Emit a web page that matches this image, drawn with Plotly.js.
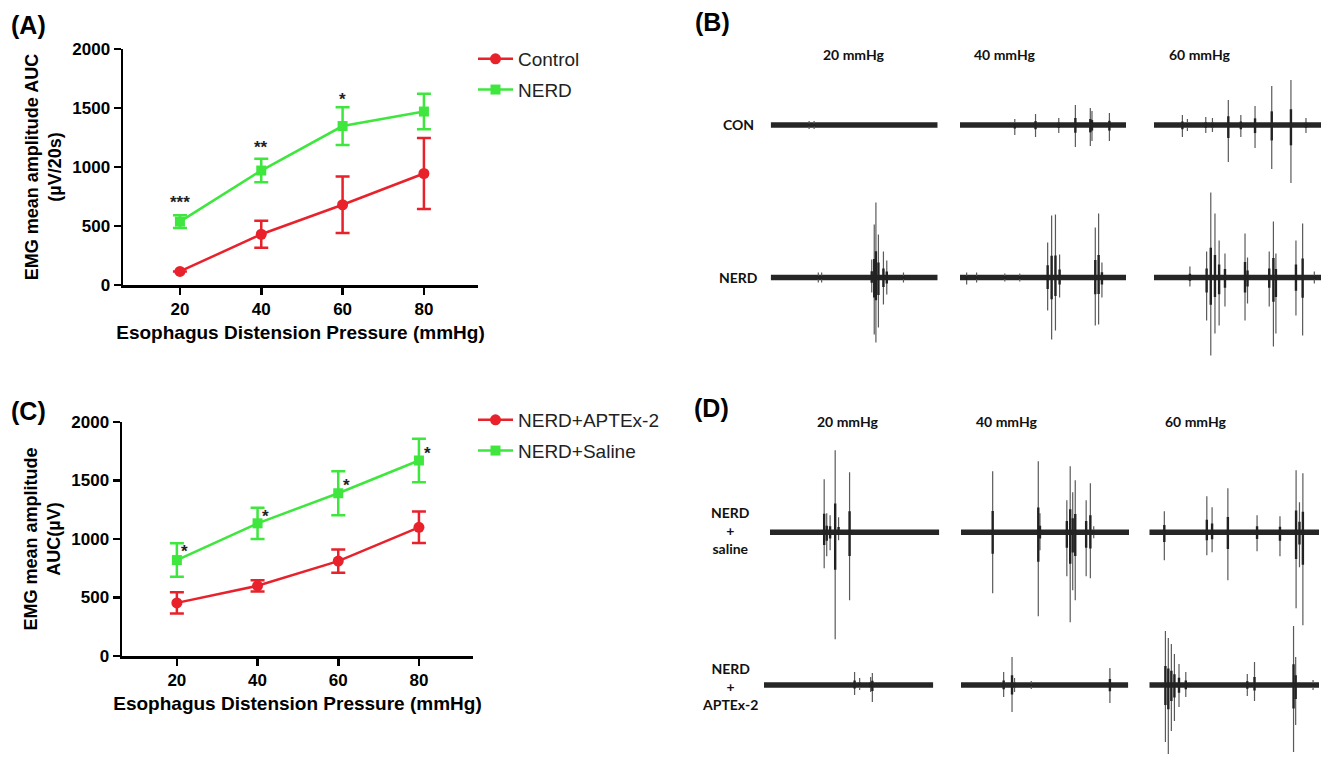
<!DOCTYPE html>
<html><head><meta charset="utf-8">
<script src="https://cdn.plot.ly/plotly-3.0.1.min.js"></script>
<style>html,body{margin:0;padding:0;background:#fff}#chart{width:1323px;height:759px}</style>
</head><body><div id="chart"></div>
<script>
// ---------- Panel A data ----------
const pressure = [20, 40, 60, 80];
const controlMean = [115, 430, 680, 945];
const controlErr = [0, 115, 240, 300];
const nerdMean = [537, 970, 1347, 1470];
const nerdErr = [55, 100, 160, 150];
const starsAText = ['***', '**', '*'];
const starsAX = [20, 40, 60];
const starsAY = [720, 1186, 1593];
// ---------- Panel C data ----------
const aptexMean = [454, 600, 811, 1100];
const aptexErr = [90, 48, 100, 135];
const salineMean = [820, 1134, 1391, 1671];
const salineErr = [143, 133, 188, 185];
const starsCText = ['*', '*', '*', '*'];
const starsCX = [22, 42, 62, 82];
const starsCY = [929, 1226, 1491, 1769];
const xTicks = [20, 40, 60, 80];
const yTicks = [0, 500, 1000, 1500, 2000];
// ---------- EMG traces (time s, amplitude up / down, a.u.) ----------
const pressureLabels = ['20 mmHg', '40 mmHg', '60 mmHg'];
const rowLabelsB = ['CON', 'NERD'];
const rowLabelsD = ['NERD<br>+<br>saline', 'NERD<br>+<br>APTEx-2'];

const conB20T = [4.6, 5.2], conB20Up = [4, 4], conB20Dn = [4, 4];
const conB40T = [6.6, 9.1, 11.9, 13.9, 15.7, 15.9, 18.0];
const conB40Up = [6, 11, 7, 20, 17, 14, 12];
const conB40Dn = [10, 12, 8, 22, 21, 16, 16];
const conB60T = [3.4, 4.0, 6.2, 7.0, 8.9, 10.4, 12.1, 14.1, 16.4, 18.2];
const conB60Up = [10, 6, 8, 7, 25, 10, 19, 39, 45, 7];
const conB60Dn = [12, 6, 8, 7, 37, 12, 23, 44, 58, 8];

const nerdB20T = [5.7, 6.1, 12.1, 12.4, 12.6, 12.9, 13.5, 13.9, 15.9];
const nerdB20Up = [5, 5, 18, 53, 75, 43, 26, 17, 5];
const nerdB20Dn = [5, 5, 15, 57, 65, 50, 27, 17, 5];
const nerdB40T = [0.8, 2.0, 5.4, 7.2, 10.56, 11.04, 11.5, 12.0, 16.3, 16.7, 17.1];
const nerdB40Up = [5, 5, 4, 4, 35, 62, 63, 23, 50, 64, 15];
const nerdB40Dn = [7, 5, 4, 4, 33, 62, 53, 20, 48, 47, 20];
const nerdB60T = [4.3, 6.3, 6.8, 7.3, 7.8, 8.5, 10.9, 11.2, 13.8, 14.3, 14.6, 17.0, 17.8, 19.2];
const nerdB60Up = [11, 26, 85, 64, 37, 24, 44, 20, 26, 56, 24, 37, 54, 6];
const nerdB60Dn = [9, 43, 78, 56, 48, 29, 43, 26, 29, 69, 56, 38, 58, 6];

const salD20T = [6.4, 6.7, 7.1, 7.7, 8.1, 9.4];
const salD20Up = [53, 19, 17, 82, 15, 60];
const salD20Dn = [36, 24, 18, 107, 8, 68];
const salD40T = [3.77, 9.2, 9.4, 12.6, 13.0, 13.3, 13.6, 14.9, 15.4, 15.8];
const salD40Up = [61, 71, 19, 32, 66, 40, 52, 32, 49, 6];
const salD40Dn = [61, 84, 18, 44, 90, 58, 68, 44, 46, 6];
const salD60T = [1.77, 6.78, 7.4, 9.26, 12.7, 15.4, 17.3, 17.7, 18.1];
const salD60Up = [21, 36, 25, 44, 17, 16, 62, 30, 59];
const salD60Dn = [28, 23, 20, 48, 19, 24, 76, 35, 93];

const aptD20T = [10.7, 11.3, 12.6, 12.8];
const aptD20Up = [13, 7, 8, 12];
const aptD20Dn = [10, 5, 7, 17];
const aptD40T = [5.1, 6.1, 6.4, 8.4, 17.8];
const aptD40Up = [13, 28, 7, 4, 17];
const aptD40Dn = [12, 27, 7, 4, 18];
const aptD60T = [1.9, 2.24, 2.6, 2.96, 3.5, 4.3, 11.55, 12.4, 17.0, 17.25, 19.3];
const aptD60Up = [54, 47, 41, 31, 21, 13, 11, 23, 59, 28, 5];
const aptD60Dn = [57, 69, 46, 36, 22, 12, 11, 16, 67, 40, 5];

// ---------- styles / layout helpers ----------
const W = 1323, H = 759;
const RED = '#e8212b', GREEN = '#3ee63e';
const ARIAL = 'Liberation Sans, Arial, sans-serif';
const CAL = 'Lato, Calibri, sans-serif';
const px = v => v / W, py = v => 1 - v / H;

const emgSpecs = [
  // [t, up, dn, x0px, x1px, baselinePx, halfHeightPx]
  [conB20T, conB20Up, conB20Dn, 770.7, 937.7, 125, 65],
  [conB40T, conB40Up, conB40Dn, 960, 1126, 125, 65],
  [conB60T, conB60Up, conB60Dn, 1154, 1321, 125, 65],
  [nerdB20T, nerdB20Up, nerdB20Dn, 770.7, 937.7, 277.5, 88],
  [nerdB40T, nerdB40Up, nerdB40Dn, 960, 1126, 277.5, 88],
  [nerdB60T, nerdB60Up, nerdB60Dn, 1154, 1321, 277.5, 88],
  [salD20T, salD20Up, salD20Dn, 770, 939.3, 532.3, 112],
  [salD40T, salD40Up, salD40Dn, 961, 1129, 532.3, 112],
  [salD60T, salD60Up, salD60Dn, 1149.3, 1319, 532.3, 112],
  [aptD20T, aptD20Up, aptD20Dn, 764, 933.3, 685, 72],
  [aptD40T, aptD40Up, aptD40Dn, 961, 1128.3, 685, 72],
  [aptD60T, aptD60Up, aptD60Dn, 1149.3, 1319, 685, 72]
];

const data = [];
const axisCommon = {
  showline: true, linecolor: '#000', linewidth: 2.5, ticks: 'outside', ticklen: 7,
  tickwidth: 2.5, tickcolor: '#000', showgrid: false, zeroline: false, fixedrange: true,
  tickfont: {family: ARIAL, size: 17, color: '#000', weight: 'bold'}
};
const xTitleFont = {family: ARIAL, size: 19, color: '#000'};
const yTitleFont = {family: ARIAL, size: 18, color: '#000'};
const legendCommon = {xanchor: 'left', yanchor: 'top', bgcolor: 'rgba(0,0,0,0)',
  font: {family: ARIAL, size: 19, color: '#222'}, traceorder: 'grouped', tracegroupgap: 3, itemwidth: 35};
const layout = {
  width: W, height: H, margin: {l: 0, r: 0, t: 0, b: 0},
  paper_bgcolor: '#fff', plot_bgcolor: 'rgba(0,0,0,0)', showlegend: true,
  font: {family: ARIAL, color: '#000'},
  xaxis: Object.assign({}, axisCommon, {domain: [px(123), px(478)], range: [6, 93.3], tickvals: xTicks, anchor: 'y',
    title: {text: '<b>Esophagus Distension Pressure (mmHg)</b>', font: xTitleFont, standoff: 8}}),
  yaxis: Object.assign({}, axisCommon, {domain: [py(285), py(49)], range: [0, 2000], tickvals: yTicks, anchor: 'x',
    title: {text: '<b>EMG mean amplitude AUC<br>(µV/20s)</b>', font: yTitleFont, standoff: 6}}),
  xaxis2: Object.assign({}, axisCommon, {domain: [px(122), px(473)], range: [6.4, 93.4], tickvals: xTicks, anchor: 'y2',
    title: {text: '<b>Esophagus Distension Pressure (mmHg)</b>', font: xTitleFont, standoff: 8}}),
  yaxis2: Object.assign({}, axisCommon, {domain: [py(656), py(422)], range: [0, 2000], tickvals: yTicks, anchor: 'x2',
    title: {text: '<b>EMG mean amplitude<br>AUC(µV)</b>', font: yTitleFont, standoff: 6}}),
  legend: Object.assign({}, legendCommon, {x: px(473), y: py(40)}),
  legend2: Object.assign({}, legendCommon, {x: px(473), y: py(401)}),
  annotations: []
};

function series(name, x, y, err, color, symbol, xa, ya, leg, grp) {
  return {
    type: 'scatter', mode: 'lines+markers', name: name, x: x, y: y,
    xaxis: xa, yaxis: ya, legend: leg, legendgroup: grp,
    line: {color: color, width: 2.5},
    marker: {color: color, symbol: symbol, size: symbol === 'square' ? 10 : 11},
    error_y: {type: 'data', array: err, visible: true, color: color, thickness: 2.5, width: 7},
    cliponaxis: false, hoverinfo: 'skip'
  };
}
data.push(series('Control', pressure, controlMean, controlErr, RED, 'circle', 'x', 'y', 'legend', 'a1'));
data.push(series('NERD', pressure, nerdMean, nerdErr, GREEN, 'square', 'x', 'y', 'legend', 'a2'));
data.push(series('NERD+APTEx-2', pressure, aptexMean, aptexErr, RED, 'circle', 'x2', 'y2', 'legend2', 'c1'));
data.push(series('NERD+Saline', pressure, salineMean, salineErr, GREEN, 'square', 'x2', 'y2', 'legend2', 'c2'));

starsAText.forEach((s, i) => layout.annotations.push({xref: 'x', yref: 'y', x: starsAX[i], y: starsAY[i], text: '<b>' + s + '</b>',
  showarrow: false, yshift: -2, font: {family: ARIAL, size: 17, color: '#222'}}));
starsCText.forEach((s, i) => layout.annotations.push({xref: 'x2', yref: 'y2', x: starsCX[i], y: starsCY[i], text: '<b>' + s + '</b>',
  showarrow: false, yshift: -4, font: {family: ARIAL, size: 17, color: '#222'}}));

// EMG traces
emgSpecs.forEach((s, i) => {
  const k = i + 3;
  const [t, up, dn, x0, x1, base, hh] = s;
  layout['xaxis' + k] = {domain: [px(x0), px(x1)], range: [0, 20], visible: false, fixedrange: true, anchor: 'y' + k};
  layout['yaxis' + k] = {domain: [py(base + hh), py(base - hh)], range: [-hh, hh], visible: false, fixedrange: true, anchor: 'x' + k};
  const sx = [], sy = [], cx = [], cy = [];
  t.forEach((tt, j) => {
    sx.push(tt, tt, null); sy.push(-dn[j], up[j], null);
    cx.push(tt, tt, null); cy.push(-dn[j] * 0.35, up[j] * 0.35, null);
  });
  data.push({type: 'scatter', mode: 'lines', x: [0, 20], y: [0, 0], xaxis: 'x' + k, yaxis: 'y' + k,
    line: {color: '#262626', width: 5.5}, showlegend: false, hoverinfo: 'skip'});
  data.push({type: 'scatter', mode: 'lines', x: sx, y: sy, xaxis: 'x' + k, yaxis: 'y' + k,
    line: {color: '#5a5a5a', width: 1.2}, showlegend: false, hoverinfo: 'skip'});
  data.push({type: 'scatter', mode: 'lines', x: cx, y: cy, xaxis: 'x' + k, yaxis: 'y' + k,
    line: {color: '#222', width: 2.4}, showlegend: false, hoverinfo: 'skip'});
});

// Panel labels
[['(A)', 28, 25], ['(B)', 712, 22], ['(C)', 28, 411], ['(D)', 711, 408]].forEach(l =>
  layout.annotations.push({xref: 'paper', yref: 'paper', x: px(l[1]), y: py(l[2]), text: '<b>' + l[0] + '</b>',
    showarrow: false, xanchor: 'center', yanchor: 'middle', font: {family: ARIAL, size: 25, color: '#000'}}));
// EMG headers
const headB = [853.6, 1038, 1233.4], headD = [847.6, 1040, 1228.6];
pressureLabels.forEach((lab, i) => {
  layout.annotations.push({xref: 'paper', yref: 'paper', x: px(headB[i]), y: py(43.5), text: '<b>' + lab + '</b>',
    showarrow: false, font: {family: CAL, size: 14, color: '#111'}});
  layout.annotations.push({xref: 'paper', yref: 'paper', x: px(headD[i]), y: py(421.7), text: '<b>' + lab + '</b>',
    showarrow: false, font: {family: CAL, size: 14, color: '#111'}});
});
[[rowLabelsB[0], 738.5, 125], [rowLabelsB[1], 738.5, 277], [rowLabelsD[0], 730, 530], [rowLabelsD[1], 730, 686]].forEach(r =>
  layout.annotations.push({xref: 'paper', yref: 'paper', x: px(r[1]), y: py(r[2]), text: '<b>' + r[0].split('<br>').join('</b><br><b>') + '</b>',
    showarrow: false, xanchor: 'center', yanchor: 'middle', font: {family: CAL, size: 14, color: '#111'}}));

Plotly.newPlot('chart', data, layout, {staticPlot: true, displayModeBar: false});
</script></body></html>
